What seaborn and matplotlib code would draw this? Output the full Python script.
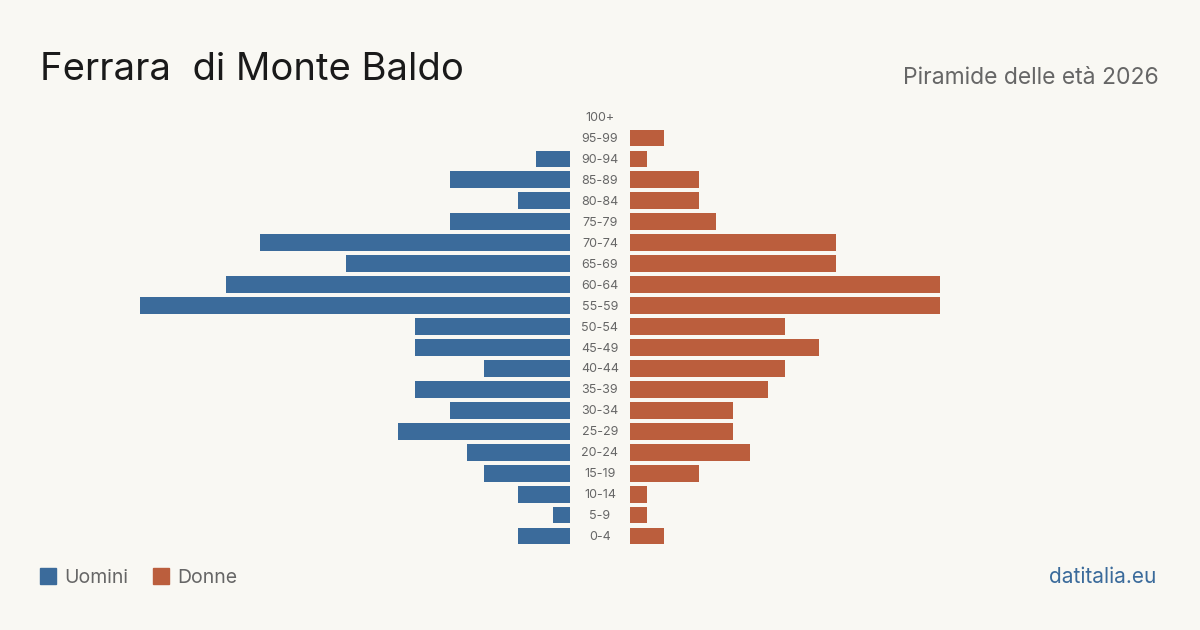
import seaborn as sns
import matplotlib.pyplot as plt
import matplotlib.patches as mpatches
import pandas as pd

ages = ['100+', '95-99', '90-94', '85-89', '80-84', '75-79', '70-74', '65-69', '60-64', '55-59',
        '50-54', '45-49', '40-44', '35-39', '30-34', '25-29', '20-24', '15-19', '10-14', '5-9', '0-4']
uomini = [0, 0, 2, 7, 3, 7, 18, 13, 20, 25, 9, 9, 5, 9, 7, 10, 6, 5, 3, 1, 3]
donne = [0, 2, 1, 4, 4, 5, 12, 12, 18, 18, 9, 11, 9, 8, 6, 6, 7, 4, 1, 1, 2]

BG = '#f9f8f3'
BLUE = '#3b6b9b'
RED = '#bb5e3d'
GREY = '#666666'

sns.set_theme(style='white')
plt.rcParams['font.family'] = ['Inter', 'DejaVu Sans']

df = pd.DataFrame({'age': ages, 'uomini': uomini, 'donne': donne})

W, H = 1200, 630
fig = plt.figure(figsize=(12, 6.3), dpi=100, facecolor=BG)

def frac(x0, x1):
    return x0 / W, (x1 - x0) / W

top, bottom = 106.5, 546.5
yb = 1 - bottom / H
yh = (bottom - top) / H
xmax = 530 / 17.2

l0, lw = frac(40, 570)
ax_l = fig.add_axes([l0, yb, lw, yh])
r0, rw = frac(630, 1160)
ax_r = fig.add_axes([r0, yb, rw, yh])

sns.barplot(data=df, y='age', x='uomini', order=ages, orient='h', color=BLUE,
            width=0.8, saturation=1, linewidth=0, ax=ax_l)
sns.barplot(data=df, y='age', x='donne', order=ages, orient='h', color=RED,
            width=0.8, saturation=1, linewidth=0, ax=ax_r)

ax_l.set_xlim(xmax, 0)
ax_r.set_xlim(0, xmax)
for ax in (ax_l, ax_r):
    ax.set_facecolor(BG)
    ax.set_ylim(len(ages) - 0.5, -0.5)
    ax.set_xticks([])
    ax.set_yticks([])
    ax.set_xlabel('')
    ax.set_ylabel('')
    for s in ax.spines.values():
        s.set_visible(False)

# age labels in the middle gap
for i, a in enumerate(ages):
    ax_r.text(-30 / 17.2, i + 0.05, a, ha='center', va='center', fontsize=9, color=GREY,
              clip_on=False)

fig.text(40 / W, 1 - 80 / H, 'Ferrara  di Monte Baldo', fontsize=27.5, color='#1a1a1a',
         ha='left', va='baseline')
fig.text(1159 / W, 1 - 84 / H, 'Piramide delle età 2026', fontsize=16.5, color=GREY,
         ha='right', va='baseline')

# legend
for x0, col, lab in [(40, BLUE, 'Uomini'), (153, RED, 'Donne')]:
    fig.patches.append(mpatches.Rectangle((x0 / W, 1 - 584 / H), 16 / W, 16 / H,
                                          transform=fig.transFigure, color=col))
    fig.text((x0 + 24) / W, 1 - 583 / H, lab, fontsize=14, color=GREY,
             ha='left', va='baseline')

fig.text(1156 / W, 1 - 583 / H, 'datitalia.eu', fontsize=15, color=BLUE,
         ha='right', va='baseline')

fig.savefig('out.png', dpi=100, facecolor=BG)
